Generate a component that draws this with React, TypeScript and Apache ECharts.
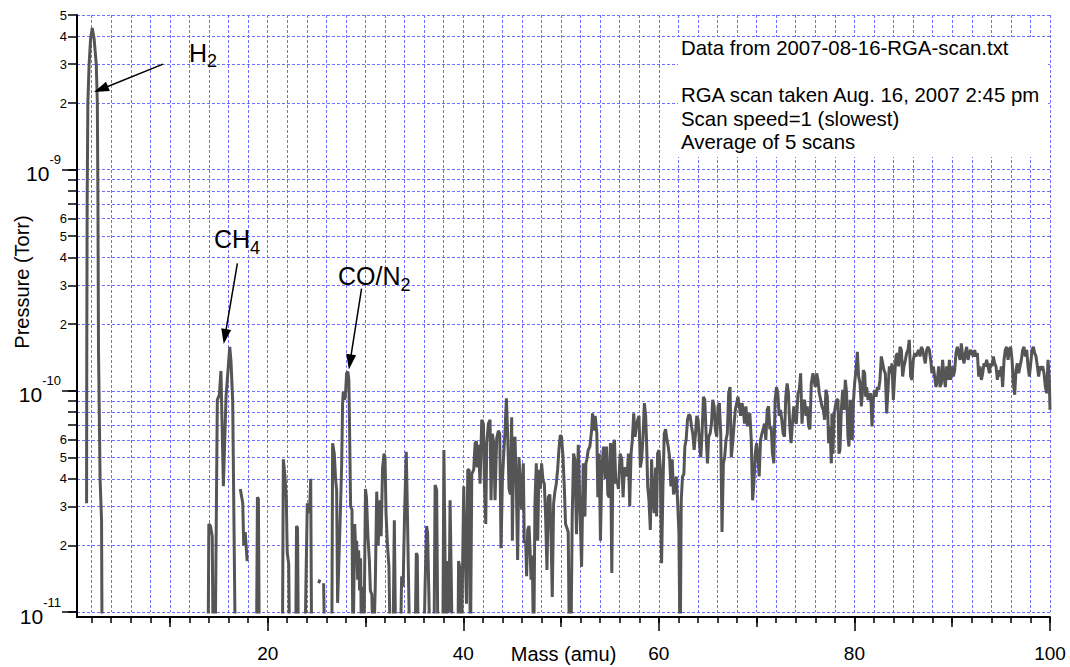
import React, { useEffect, useRef } from "react";
import * as echarts from "echarts";

// Pressures below are given in units of 1e-11 Torr; null marks a break in the trace.
const PRESSURE_UNIT = 1e-11;

type Pt = [number, number | null];

const H2_PEAK: Pt[] = [
  [1.4, null],
  [1.48, 3.1], [1.5, 15], [1.54, 73], [1.61, 200], [1.74, 300], [1.89, 390],
  [2.06, 437], [2.25, 390], [2.47, 300], [2.58, 200], [2.64, 73], [2.7, 15],
  [2.74, 11], [2.86, 4.0], [3.01, 2.6], [3.07, 0.6],
  [3.2, null],
];

const CH4_REGION: Pt[] = [
  [13.9, 0.6], [13.98, 2.5], [14.15, 2.45], [14.33, 2.2], [14.43, 0.6], [14.62, 0.6],
  [14.85, 9.1], [15.06, 9.6], [15.22, 12.3], [15.47, 3.7], [15.74, 9.4], [16.12, 15.8],
  [16.25, 13.5], [16.42, 9.0], [16.7, 0.6],
  [16.9, null],
  [17.2, 3.6], [17.45, 3.1], [17.55, 2.0], [17.7, 2.3], [17.9, 1.7],
  [18.0, null],
];

const SMALL_PEAKS_19_26: Pt[] = [
  [18.85, 0.6], [18.95, 3.3], [19.05, 3.25], [19.15, 0.6],
  [21.5, 0.6], [21.6, 4.9], [21.75, 4.2], [21.9, 3.3], [22.0, 1.85], [22.15, 1.65], [22.25, 0.6],
  [22.85, 0.6], [22.95, 2.45], [23.05, 2.4], [23.15, 0.6],
  [23.8, 0.6], [23.9, 1.25], [24.05, 3.1], [24.2, 2.8], [24.3, 3.0], [24.4, 4.0], [24.5, 0.6],
  [24.6, null],
  [25.2, 1.35], [25.35, 1.4],
  [25.45, null],
  [25.72, 1.35], [25.85, 0.6],
];

const CO_REGION: Pt[] = [
  [26.55, 0.6], [26.64, 5.8], [26.81, 5.2], [26.95, 3.95], [27.05, 3.56], [27.15, 1.1],
  [27.39, 2.43], [27.56, 4.5], [27.66, 8.8], [27.73, 9.9], [27.87, 9.1], [27.97, 9.9],
  [28.07, 12.0], [28.2, 12.2], [28.3, 11.2], [28.36, 7.4], [28.48, 3.0], [28.62, 2.9],
  [28.72, 0.6],
];

const NOISE_29_40: Pt[] = [
  [28.9, 2.5], [29.0, 1.9], [29.1, 2.1], [29.2, 1.4], [29.3, 1.9], [29.4, 1.25],
  [29.5, 1.75], [29.6, 0.6], [29.7, 1.3], [29.85, 0.8], [30.0, 3.6], [30.1, 3.3],
  [30.25, 2.2], [30.4, 1.7], [30.5, 1.25], [30.65, 1.2], [30.8, 0.6], [31.0, 1.3],
  [31.15, 3.5], [31.3, 2.0], [31.45, 3.2], [31.6, 2.2], [31.75, 4.5], [31.9, 5.2],
  [32.0, 5.0], [32.1, 2.8], [32.25, 2.0], [32.4, 1.6], [32.55, 0.6], [32.8, 0.6],
  [32.95, 2.6], [33.1, 0.6], [33.55, 0.6], [33.7, 1.45], [33.85, 1.3], [34.0, 2.8],
  [34.17, 5.3], [34.25, 3.5], [34.42, 1.25], [34.55, 0.6],
  [35.05, 0.6], [35.2, 1.85], [35.3, 1.8], [35.4, 0.6],
  [35.95, 0.6], [36.1, 1.35], [36.25, 2.45], [36.35, 2.3], [36.5, 1.1], [36.6, 0.6],
  [37.0, 0.6], [37.12, 3.75], [37.28, 3.55], [37.42, 0.6],
  [37.9, 0.6], [38.02, 5.4], [38.12, 2.1], [38.25, 0.6], [38.45, 1.7], [38.55, 1.0],
  [38.65, 3.2], [38.78, 1.35], [38.9, 0.6],
  [39.45, 0.6], [39.52, 1.7], [39.68, 1.55], [39.8, 0.6],
];

const NOISE_40_53: Pt[] = [
  [39.95, 1.85], [40.05, 3.7], [40.15, 2.2], [40.33, 1.09], [40.46, 4.4], [40.6, 4.4],
  [40.73, 0.6], [40.87, 4.2], [41.07, 4.4], [41.21, 5.8], [41.35, 5.9], [41.41, 4.5],
  [41.55, 5.7], [41.72, 3.8], [41.89, 7.4], [42.06, 7.1], [42.16, 3.9], [42.3, 2.5],
  [42.4, 5.8], [42.57, 7.1], [42.74, 7.4], [42.84, 3.2], [42.98, 6.4], [43.12, 5.8],
  [43.25, 3.2], [43.42, 6.1], [43.59, 6.6], [43.73, 6.4], [43.86, 1.94], [44.0, 3.9],
  [44.14, 5.2], [44.27, 6.6], [44.41, 9.25], [44.54, 6.4], [44.68, 3.6], [44.82, 3.4],
  [44.95, 7.6], [45.02, 2.1], [45.16, 5.8], [45.29, 6.2], [45.43, 3.6], [45.56, 1.72],
  [45.7, 5.0], [45.84, 3.8], [45.97, 2.9], [46.14, 4.7], [46.24, 2.05], [46.38, 2.1],
  [46.48, 1.45], [46.59, 2.35], [46.72, 2.45], [46.82, 1.97], [46.93, 1.4], [47.06, 1.8],
  [47.2, 0.6], [47.33, 3.1], [47.47, 4.7], [47.61, 2.1], [47.74, 4.4], [47.88, 3.6],
  [48.01, 4.7], [48.15, 3.95], [48.29, 3.8], [48.42, 2.7], [48.56, 1.55], [48.69, 3.3],
  [48.86, 3.4], [49.0, 2.0], [49.1, 1.17], [49.24, 3.1], [49.37, 3.5], [49.51, 3.8],
  [49.65, 4.4], [49.78, 5.4], [49.92, 6.3], [50.05, 6.2], [50.19, 5.1], [50.33, 3.7],
  [50.46, 2.5], [50.6, 2.4], [50.73, 2.3], [50.87, 0.6], [51.0, 0.6], [51.14, 2.7],
  [51.28, 5.2], [51.41, 4.9], [51.58, 2.25], [51.76, 5.7], [51.93, 3.0], [52.1, 1.6],
  [52.27, 4.7], [52.44, 2.7], [52.54, 4.7], [52.64, 4.9], [52.78, 5.4], [52.95, 5.6],
  [53.12, 6.6], [53.22, 7.9], [53.35, 6.6],
];

const NOISE_53_74: Pt[] = [
  [53.49, 7.7], [53.66, 6.4], [53.76, 3.3], [53.9, 5.2], [54.03, 2.1], [54.17, 4.5],
  [54.34, 5.6], [54.51, 4.0], [54.65, 5.6], [54.78, 3.4], [54.92, 3.3], [55.05, 5.8],
  [55.19, 1.5], [55.32, 5.6], [55.46, 6.0], [55.6, 3.8], [55.73, 3.95], [55.87, 3.6],
  [56.04, 5.2], [56.21, 4.9], [56.34, 3.3], [56.48, 4.5], [56.61, 4.4], [56.75, 4.1],
  [56.89, 5.2], [57.02, 3.0], [57.16, 5.2], [57.29, 6.0], [57.43, 7.9], [57.57, 6.2],
  [57.7, 6.9], [57.84, 7.4], [57.97, 7.7], [58.11, 4.5], [58.24, 4.9], [58.38, 6.2],
  [58.52, 8.8], [58.65, 7.7], [58.75, 5.8], [58.86, 3.7], [58.99, 3.2], [59.13, 2.35],
  [59.26, 4.9], [59.4, 3.2], [59.53, 2.8], [59.67, 4.5], [59.77, 2.7], [59.87, 5.2],
  [60.01, 5.4], [60.15, 4.5], [60.28, 1.66], [60.42, 3.7], [60.55, 6.4], [60.69, 6.7],
  [60.83, 6.0], [60.96, 5.6], [61.1, 5.0], [61.23, 3.7], [61.37, 4.9], [61.5, 3.4],
  [61.64, 3.6], [61.78, 4.1], [61.91, 3.2], [62.05, 2.3], [62.18, 0.6], [62.29, 3.2],
  [62.42, 4.1], [62.56, 4.2], [62.66, 5.6], [62.79, 6.0], [62.93, 7.4], [63.07, 7.8],
  [63.2, 7.7], [63.34, 6.9], [63.47, 6.4], [63.61, 5.4], [63.75, 6.4], [63.88, 7.7],
  [64.02, 7.4], [64.15, 5.8], [64.29, 5.0], [64.42, 6.4], [64.56, 9.4], [64.7, 9.1],
  [64.83, 6.4], [64.97, 4.7], [65.1, 6.2], [65.24, 6.4], [65.38, 7.1], [65.51, 9.1],
  [65.65, 8.5], [65.78, 6.7], [65.92, 6.2], [66.05, 8.5], [66.19, 8.8], [66.33, 6.4],
  [66.46, 2.3], [66.6, 4.7], [66.73, 5.0], [66.87, 6.0], [67.0, 6.4], [67.14, 9.75],
  [67.28, 10.4], [67.41, 5.0], [67.55, 5.8], [67.68, 6.9], [67.82, 8.2], [67.96, 8.8],
  [68.09, 9.4], [68.23, 8.5], [68.36, 7.7], [68.5, 8.8], [68.63, 8.2], [68.77, 7.1],
  [68.91, 8.5], [69.04, 6.9], [69.18, 7.7], [69.31, 7.9], [69.45, 6.0], [69.59, 3.2],
  [69.72, 3.8], [69.86, 5.2], [69.99, 5.8], [70.13, 5.0], [70.26, 4.1], [70.4, 6.0],
  [70.54, 6.4], [70.67, 6.7], [70.81, 7.1], [70.94, 6.0], [71.08, 8.2], [71.22, 8.5],
  [71.35, 6.7], [71.49, 6.9], [71.62, 5.2], [71.76, 4.7], [71.89, 9.1], [72.03, 10.4],
  [72.17, 9.75], [72.3, 7.7], [72.44, 8.2], [72.57, 7.4], [72.71, 6.4], [72.85, 6.2],
  [72.98, 9.4], [73.12, 10.8], [73.25, 9.75], [73.39, 6.9], [73.52, 5.8], [73.66, 7.1],
  [73.8, 8.5],
];

const NOISE_74_100: Pt[] = [
  [73.89, 7.5], [74.06, 7.1], [74.23, 9.75], [74.36, 10.1], [74.5, 12.0], [74.64, 7.1],
  [74.77, 8.8], [74.91, 9.1], [75.05, 7.7], [75.18, 8.5], [75.32, 6.9], [75.45, 6.7],
  [75.59, 10.8], [75.76, 12.0], [75.86, 11.2], [76.0, 10.4], [76.14, 12.0], [76.27, 11.2],
  [76.41, 9.75], [76.55, 9.1], [76.68, 8.5], [76.82, 8.2], [76.95, 7.4], [77.09, 10.1],
  [77.23, 9.4], [77.36, 5.8], [77.5, 6.9], [77.64, 4.7], [77.7, 7.9], [77.81, 5.2],
  [77.91, 7.7], [78.05, 8.5], [78.18, 9.1], [78.32, 9.1], [78.42, 5.2], [78.52, 5.4],
  [78.66, 8.2], [78.8, 10.1], [78.93, 8.2], [79.07, 11.2], [79.2, 9.75], [79.34, 6.2],
  [79.44, 5.6], [79.58, 9.1], [79.68, 6.9], [79.78, 6.0], [79.89, 8.8], [80.02, 10.8],
  [80.16, 12.4], [80.3, 15.0], [80.43, 11.6], [80.57, 10.8], [80.71, 8.5], [80.81, 9.75],
  [80.91, 12.4], [81.05, 12.0], [81.15, 9.4], [81.25, 10.4], [81.39, 9.1], [81.52, 9.4],
  [81.66, 9.75], [81.8, 6.9], [81.93, 9.1], [82.07, 10.1], [82.21, 9.4], [82.34, 10.4],
  [82.48, 10.1], [82.61, 11.2], [82.75, 14.3], [82.89, 13.3], [83.02, 12.4], [83.16, 12.0],
  [83.3, 7.9], [83.43, 10.1], [83.57, 12.9], [83.71, 12.0], [83.84, 13.3], [83.98, 9.1],
  [84.11, 11.6], [84.25, 14.3], [84.39, 14.8], [84.52, 12.9], [84.66, 15.8], [84.8, 15.3],
  [84.93, 11.6], [85.07, 12.9], [85.21, 13.8], [85.34, 14.8], [85.48, 15.3], [85.61, 17.0],
  [85.75, 11.6], [85.89, 11.2], [86.02, 13.8], [86.16, 14.8], [86.29, 14.3], [86.43, 14.8],
  [86.57, 15.3], [86.71, 14.3], [86.84, 15.8], [86.98, 15.3], [87.11, 14.3], [87.25, 13.3],
  [87.39, 15.3], [87.52, 15.8], [87.66, 15.3], [87.8, 13.8], [87.93, 12.0], [88.07, 12.9],
  [88.2, 11.6], [88.34, 10.4], [88.48, 11.2], [88.62, 12.9], [88.75, 10.4], [88.89, 10.8],
  [89.02, 13.8], [89.16, 11.6], [89.3, 10.4], [89.43, 12.9], [89.57, 11.2], [89.71, 13.8],
  [89.84, 11.2], [89.98, 12.9], [90.12, 11.6], [90.25, 12.4], [90.39, 14.8], [90.52, 15.8],
  [90.66, 14.8], [90.8, 13.8], [90.93, 16.4], [91.07, 14.3], [91.21, 13.3], [91.34, 14.8],
  [91.48, 15.8], [91.62, 13.8], [91.75, 14.8], [91.89, 15.3], [92.02, 14.8], [92.16, 14.3],
  [92.3, 15.3], [92.43, 14.3], [92.57, 14.8], [92.71, 11.6], [92.84, 12.9], [92.98, 11.2],
  [93.12, 12.0], [93.25, 13.3], [93.39, 12.9], [93.52, 13.8], [93.66, 12.9], [93.8, 12.0],
  [93.93, 13.3], [94.07, 12.9], [94.21, 14.3], [94.34, 13.3], [94.48, 12.9], [94.62, 11.2],
  [94.75, 12.4], [94.89, 11.6], [95.02, 12.9], [95.16, 10.4], [95.3, 13.8], [95.43, 15.3],
  [95.57, 15.8], [95.71, 13.8], [95.84, 15.3], [95.98, 15.8], [96.12, 13.8], [96.25, 10.8],
  [96.39, 9.6], [96.52, 12.4], [96.66, 13.3], [96.8, 12.0], [96.93, 12.9], [97.07, 13.8],
  [97.21, 15.3], [97.34, 15.8], [97.48, 14.3], [97.62, 15.3], [97.75, 12.9], [97.89, 11.6],
  [98.03, 13.3], [98.16, 15.3], [98.3, 15.8], [98.43, 14.8], [98.57, 14.3], [98.71, 12.9],
  [98.84, 11.6], [98.98, 12.9], [99.12, 12.4], [99.25, 12.9], [99.39, 12.0], [99.53, 10.4],
  [99.66, 9.75], [99.8, 13.8], [99.93, 11.2], [100.0, 8.2],
];

// Axis ranges and tick positions
const X_MIN = 0.5;
const X_MAX = 100;
const X_MINOR_STEP = 2;
const X_MID_TICKS = [10, 30, 50, 70, 90];
const X_MAJOR_TICKS = [20, 40, 60, 80, 100];

const Y_MIN = 1e-11;
const Y_MAX = 5e-9;
const Y_DECADES = [1e-11, 1e-10, 1e-9];
const Y_MINOR_DIGITS = [2, 3, 4, 5, 6, 7, 8, 9];
const Y_LABELED_DIGITS = [2, 3, 4, 5, 6];

// Annotation arrows: tail and head as [mass, pressure (Torr)]
const ARROWS: { from: [number, number]; to: [number, number] }[] = [
  { from: [9.3, 3.0e-9], to: [2.95, 2.31e-9] },
  { from: [16.9, 3.77e-10], to: [15.63, 1.76e-10] },
  { from: [29.6, 2.9e-10], to: [28.42, 1.35e-10] },
];

const INFO_LINES = [
  "Data from 2007-08-16-RGA-scan.txt",
  "",
  "RGA scan taken Aug. 16, 2007 2:45 pm",
  "Scan speed=1 (slowest)",
  "Average of 5 scans",
];

const FONT = "'Liberation Sans', Arial, Helvetica, sans-serif";
const GRID_COLOR = "#6e6eff";
const TRACE_COLOR = "#555555";

const tidy = (v: number) => Number(v.toPrecision(6));

function minorValues(digits: number[]): number[] {
  const out: number[] = [];
  Y_DECADES.forEach((d) => {
    digits.forEach((k) => {
      const v = tidy(k * d);
      if (v <= Y_MAX) out.push(v);
    });
  });
  return out;
}

function buildOption(): echarts.EChartsCoreOption {
  const trace = [
    ...H2_PEAK,
    ...CH4_REGION,
    ...SMALL_PEAKS_19_26,
    ...CO_REGION,
    ...NOISE_29_40,
    ...NOISE_40_53,
    ...NOISE_53_74,
    ...NOISE_74_100,
  ].map(([m, p]) => [m, p == null ? null : p * PRESSURE_UNIT]);

  const xMinorTicks: number[] = [];
  for (let v = X_MINOR_STEP; v <= X_MAX; v += X_MINOR_STEP) xMinorTicks.push(v);

  const yGridValues = [...Y_DECADES, ...minorValues(Y_MINOR_DIGITS)].sort((a, b) => a - b);
  const yLabeledMinor = minorValues(Y_LABELED_DIGITS);

  const dashed = { color: GRID_COLOR, width: 1, type: [3, 2], opacity: 1 };
  const black = { color: "#000", width: 1.5 };

  const xCommon = {
    type: "value",
    min: X_MIN,
    max: X_MAX,
    position: "bottom",
    offset: 5,
    gridIndex: 0,
    axisLine: { show: false, onZero: false },
    axisLabel: { show: false },
    splitLine: { show: false },
    minorSplitLine: { show: false },
  };

  const yCommon = {
    type: "log",
    logBase: 10,
    min: Y_MIN,
    max: Y_MAX,
    position: "left",
    gridIndex: 0,
    axisLine: { show: false, onZero: false },
    axisLabel: { show: false },
    splitLine: { show: false },
    minorSplitLine: { show: false },
    minorTick: { show: false },
  };

  const subRich = (size: number, sub: number) => ({
    b: { fontSize: size, fontFamily: FONT, fill: "#000" },
    s: { fontSize: sub, fontFamily: FONT, fill: "#000", padding: [17, 0, 0, 0] },
  });

  return {
    animation: false,
    backgroundColor: "#fff",
    textStyle: { fontFamily: FONT, color: "#000" },
    grid: { left: 77, right: 20, top: 15, bottom: 55, outerBoundsMode: "none" },
    xAxis: [
      {
        ...xCommon,
        axisLine: { show: true, onZero: false, lineStyle: { color: "#000", width: 2 } },
        axisTick: { show: true, customValues: xMinorTicks, length: 6, lineStyle: black },
        splitLine: { show: true, lineStyle: dashed },
      },
      {
        ...xCommon,
        axisTick: { show: true, customValues: X_MID_TICKS, length: 10, lineStyle: black },
      },
      {
        ...xCommon,
        axisTick: { show: true, customValues: X_MAJOR_TICKS, length: 14, lineStyle: black },
        axisLabel: {
          show: true,
          customValues: X_MAJOR_TICKS,
          fontSize: 19,
          color: "#000",
          margin: 27,
          fontFamily: FONT,
        },
        name: "Mass (amu)",
        nameLocation: "middle",
        nameGap: 27,
        nameMoveOverlap: false,
        nameTextStyle: { fontSize: 20, color: "#000", fontFamily: FONT, lineHeight: 20 },
      },
    ],
    yAxis: [
      {
        // axis line, dashed grid, short ticks and the digit labels inside each decade
        ...yCommon,
        axisLine: { show: true, onZero: false, lineStyle: { color: "#000", width: 2 } },
        axisTick: { show: true, customValues: yGridValues, length: 9, lineStyle: black },
        splitLine: { show: true, lineStyle: dashed },
        axisLabel: {
          show: true,
          customValues: yLabeledMinor,
          fontSize: 13,
          color: "#000",
          margin: 10,
          fontFamily: FONT,
          formatter: (v: number) => {
            const decade = Math.pow(10, Math.floor(Math.log10(v) + 1e-9));
            return String(Math.round(v / decade));
          },
        },
        name: "Pressure (Torr)",
        nameLocation: "middle",
        nameGap: 45,
        nameTextStyle: { fontSize: 20, color: "#000", fontFamily: FONT, padding: [0, 0, 0, 63] },
      },
      {
        // long ticks and power-of-ten labels
        ...yCommon,
        axisTick: { show: true, customValues: Y_DECADES, length: 15, lineStyle: black },
        axisLabel: {
          show: true,
          customValues: Y_DECADES,
          margin: 16,
          formatter: (v: number) => `{b|10}{e|${Math.round(Math.log10(v))}}`,
          rich: {
            b: { fontSize: 21, color: "#000", fontFamily: FONT, padding: [8, 0, 0, 0] },
            e: { fontSize: 13, color: "#000", fontFamily: FONT, padding: [0, 0, 20, 0] },
          },
        },
      },
    ],
    series: [
      {
        type: "line",
        xAxisIndex: 0,
        yAxisIndex: 0,
        data: trace,
        z: 3,
        showSymbol: false,
        symbol: "none",
        connectNulls: false,
        clip: true,
        lineStyle: { color: TRACE_COLOR, width: 3 },
        itemStyle: { color: TRACE_COLOR },
        silent: true,
        markLine: {
          silent: true,
          animation: false,
          symbol: ["none", "triangle"],
          symbolSize: [10, 15],
          label: { show: false },
          emphasis: { disabled: true },
          lineStyle: { color: "#000", width: 1.5, type: "solid" },
          data: ARROWS.map((a) => [
            { coord: a.from, symbol: "none" },
            { coord: a.to, symbol: "triangle" },
          ]),
        },
      },
    ],
    graphic: [
      {
        type: "line",
        z: 10,
        shape: { x1: 77, y1: 610, x2: 77, y2: 618 },
        style: { stroke: "#000", lineWidth: 2 },
      },
      {
        type: "rect",
        z: 10,
        shape: { x: 678, y: 37, width: 370, height: 120 },
        style: { fill: "#fff" },
      },
      {
        type: "text",
        z: 11,
        x: 681,
        y: 36.5,
        style: {
          text: INFO_LINES.join("\n"),
          fontSize: 20.4,
          lineHeight: 23.5,
          fontFamily: FONT,
          fill: "#000",
          align: "left",
          verticalAlign: "top",
        },
      },
      {
        type: "text",
        z: 11,
        x: 189,
        y: 35,
        style: { text: "{b|H}{s|2}", rich: subRich(25, 18), align: "left", verticalAlign: "top" },
      },
      {
        type: "text",
        z: 11,
        x: 214,
        y: 221.5,
        style: { text: "{b|CH}{s|4}", rich: subRich(25, 18), align: "left", verticalAlign: "top" },
      },
      {
        type: "text",
        z: 11,
        x: 338,
        y: 258.5,
        style: { text: "{b|CO/N}{s|2}", rich: subRich(25, 18), align: "left", verticalAlign: "top" },
      },
    ],
  };
}

export default function App() {
  const ref = useRef<HTMLDivElement>(null);
  useEffect(() => {
    document.body.style.margin = "0";
    if (!ref.current) return;
    const chart = echarts.init(ref.current, null, { renderer: "svg" });
    chart.setOption(buildOption());
    return () => chart.dispose();
  }, []);
  return <div ref={ref} style={{ width: 1070, height: 667 }} />;
}
